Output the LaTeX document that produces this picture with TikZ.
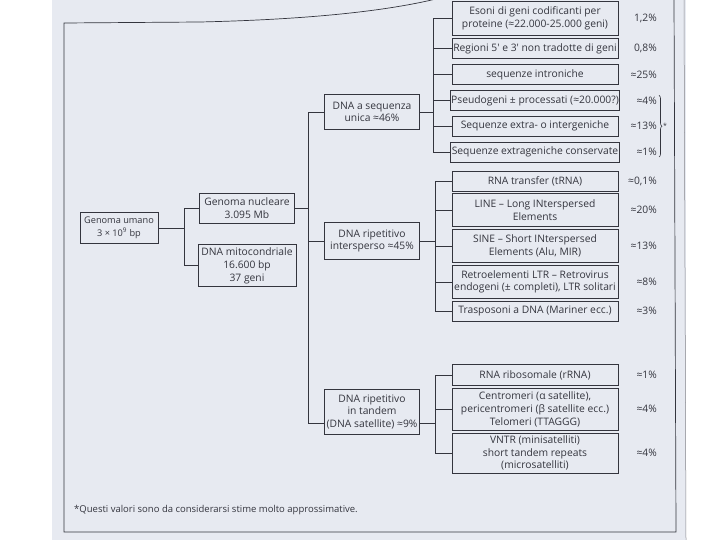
\documentclass[tikz,border=0pt]{standalone}
\usepackage{fontspec}
\setmainfont{Open Sans}
\usepackage{xcolor}
\usetikzlibrary{positioning,calc,decorations.pathreplacing}
\definecolor{pagebg}{HTML}{E7EAF1}
\definecolor{ink}{HTML}{34353E}
\tikzset{
  box/.style={draw=ink, line width=0.8pt, align=center, inner sep=1pt,
              text=ink, font=\fontsize{10.3}{12.6}\selectfont},
  leaf/.style={box, minimum width=166pt, minimum height=20pt},
  leafii/.style={leaf, minimum height=33pt},
  leafiii/.style={leaf, minimum height=42pt},
  mid/.style={box, minimum width=95pt, minimum height=35pt},
  pct/.style={anchor=east, inner sep=0pt, text=ink, font=\fontsize{10.3}{12}\selectfont},
  tree/.style={draw=ink, line width=0.8pt}
}

\begin{document}
\begin{tikzpicture}[x=1pt, y=-1pt]
  \useasboundingbox (0,0) rectangle (720,540);
  % page and frame
  \fill[pagebg] (52,0) rectangle (686,540);
  \draw[ink, line width=0.7pt] (440,-2) .. controls (400,8) and (330,19) .. (200,22)
    -- (64,23) -- (64,532) -- (676,532) -- (674,-2);
  \draw[ink!60, line width=0.5pt] (684,0) -- (686,540);

  % left part
  \node[box, minimum width=78pt, minimum height=31pt, font=\fontsize{9.2}{12.6}\selectfont] (gu) at (119,228) {Genoma umano\\3 × 10\textsuperscript{9} bp};
  \node[box, minimum width=95pt, minimum height=30pt] (gn) at (247,208) {Genoma nucleare\\3.095 Mb};
  \node[box, minimum width=98pt, minimum height=42pt, below=21pt of gn] (mt) {DNA mitocondriale\\16.600 bp\\37 geni};

  % middle column
  \node[mid] (unica) at (372,112) {DNA a sequenza\\unica ≈46\%};
  \node[mid, minimum height=37pt] (intersp) at (372,241) {DNA ripetitivo\\intersperso ≈45\%};
  \node[mid, minimum height=45pt] (tandem) at (372,412) {DNA ripetitivo\\in tandem\\(DNA satellite) ≈9\%};

  % sequenze uniche
  \node[leaf, minimum height=34pt] (esoni) at (535,18) {Esoni di geni codificanti per\\proteine (≈22.000-25.000 geni)};
  \node[leaf, below=3pt of esoni] (utr) {Regioni 5′ e 3′ non tradotte di geni};
  \node[leaf, below=5pt of utr] (intr) {sequenze introniche};
  \node[leaf, below=5pt of intr] (pseudo) {Pseudogeni ± processati (≈20.000?)};
  \node[leaf, below=5pt of pseudo] (inter) {Sequenze extra- o intergeniche};
  \node[leaf, below=5pt of inter] (cons) {Sequenze extrageniche conservate};

  % ripetitivo intersperso
  \node[leaf] (trna) at (535,181) {RNA transfer (tRNA)};
  \node[leafii, below=2pt of trna] (line) {LINE -- Long INterspersed\\Elements};
  \node[leafii, below=2pt of line] (sine) {SINE -- Short INterspersed\\Elements (Alu, MIR)};
  \node[leafii, below=2pt of sine] (ltr) {Retroelementi LTR -- Retrovirus\\endogeni (± completi), LTR solitari};
  \node[leaf, below=2pt of ltr] (trasp) {Trasposoni a DNA (Mariner ecc.)};

  % ripetitivo in tandem
  \node[leaf, minimum height=21pt] (rrna) at (535,375) {RNA ribosomale (rRNA)};
  \node[leafiii, below=2pt of rrna] (centr) {Centromeri (α satellite),\\pericentromeri (β satellite ecc.)\\Telomeri (TTAGGG)};
  \node[leafiii, minimum height=40pt, below=2pt of centr] (vntr) {VNTR (minisatelliti)\\short tandem repeats\\(microsatelliti)};

  % percentuali
  \coordinate (pr) at (657,0);
  \node[pct] (pesoni) at (esoni.east -| pr) {1,2\%};
  \node[pct] (putr) at (utr.east -| pr) {0,8\%};
  \node[pct] (pintr) at (intr.east -| pr) {≈25\%};
  \node[pct] (ppseudo) at (pseudo.east -| pr) {≈4\%};
  \node[pct] (pinter) at (inter.east -| pr) {≈13\%};
  \node[pct] (pcons) at (cons.east -| pr) {≈1\%};
  \node[pct] (ptrna) at (trna.east -| pr) {≈0,1\%};
  \node[pct] (pline) at (line.east -| pr) {≈20\%};
  \node[pct] (psine) at (sine.east -| pr) {≈13\%};
  \node[pct] (pltr) at (ltr.east -| pr) {≈8\%};
  \node[pct] (ptrasp) at (trasp.east -| pr) {≈3\%};
  \node[pct] (prrna) at (rrna.east -| pr) {≈1\%};
  \node[pct] (pcentr) at (centr.east -| pr) {≈4\%};
  \node[pct] (pvntr) at (vntr.east -| pr) {≈4\%};

  % graffa e asterisco
  \coordinate (brtop) at ($(ppseudo.north east)+(2pt,1pt)$);
  \coordinate (brbot) at ($(pcons.south east)+(2pt,-1pt)$);
  \draw[ink, line width=0.6pt, decorate, decoration={brace, amplitude=3pt}] (brtop) -- (brbot);
  \node[pct, anchor=west, font=\fontsize{7}{8}\selectfont] (ast) at ($(brtop)!0.5!(brbot)+(4pt,0)$) {*};

  % connessioni
  \coordinate (ja) at ($(gu.east)+(26pt,0)$);
  \draw[tree] (gu.east) -- (ja) |- (gn.west);
  \draw[tree] (ja) |- (mt.west);
  \coordinate (jb) at ($(gn.east)+(13pt,0)$);
  \draw[tree] (gn.east) -- (jb) |- (unica.west);
  \draw[tree] (jb) |- (intersp.west);
  \draw[tree] (jb) |- ([yshift=-11pt]tandem.west);
  \coordinate (jc) at ($(unica.east)+(13pt,0)$);
  \draw[tree] (unica.east) -- (jc);
  \foreach \n in {esoni,utr,intr,pseudo,inter,cons}
    \draw[tree] (jc) |- (\n.west);
  \coordinate (jd) at ($(intersp.east)+(15pt,0)$);
  \draw[tree] (intersp.east) -- (jd);
  \foreach \n in {trna,line,sine,ltr,trasp}
    \draw[tree] (jd) |- (\n.west);
  \coordinate (je) at ($([yshift=-11pt]tandem.east)+(15pt,0)$);
  \draw[tree] ([yshift=-11pt]tandem.east) -- (je);
  \foreach \n in {rrna,centr,vntr}
    \draw[tree] (je) |- (\n.west);

  % nota
  \node[anchor=west, inner sep=0pt, text=ink, font=\fontsize{9.5}{11}\selectfont] (nota) at (74,510)
    {*Questi valori sono da considerarsi stime molto approssimative.};
\end{tikzpicture}
\end{document}
